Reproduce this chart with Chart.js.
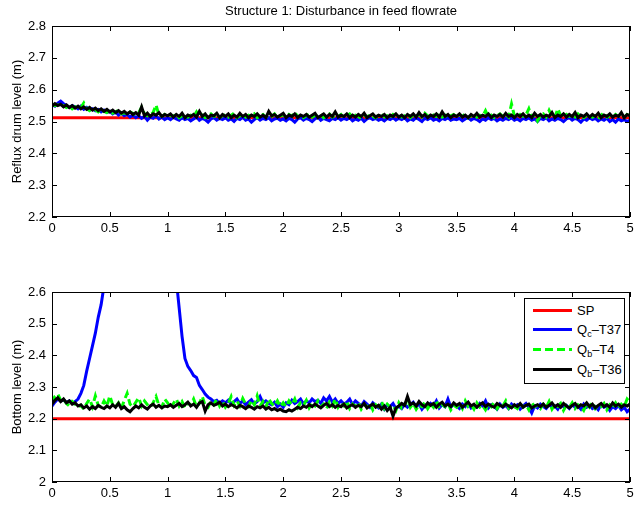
<!DOCTYPE html>
<html>
<head>
<meta charset="utf-8">
<script src="https://cdn.jsdelivr.net/npm/chart.js@4.4.1/dist/chart.umd.min.js"></script>
<style>
  html, body { margin: 0; padding: 0; background: #fff; }
  body { width: 635px; height: 506px; position: relative; overflow: hidden; font-family: 'Liberation Sans', Arial, sans-serif; }
  .panel { position: absolute; left: 0; width: 635px; }
  #top-panel { top: 0; height: 245px; }
  #bottom-panel { top: 245px; height: 261px; }
  .legend { position: absolute; left: 524px; top: 298px; width: 99px; height: 84px; border: 1px solid #000; background: #fff; font-size: 13px; color: #000; }
  .legend-row { position: absolute; left: 8px; height: 20px; display: flex; align-items: center; white-space: nowrap; }
  .legend-line { width: 39px; height: 3px; margin-right: 5px; }
  .legend sub { font-size: 9px; vertical-align: -3px; line-height: 0; }
</style>
</head>
<body>
<div class="panel" id="top-panel"><canvas id="reflux-chart"></canvas></div>
<div class="panel" id="bottom-panel"><canvas id="bottom-chart"></canvas></div>
<div class="legend">
  <div class="legend-row" style="top:1px"><span class="legend-line" style="background:#ff0000"></span><span>SP</span></div>
  <div class="legend-row" style="top:20px"><span class="legend-line" style="background:#0000ff"></span><span>Q<sub>c</sub>&ndash;T37</span></div>
  <div class="legend-row" style="top:40px"><span class="legend-line" style="background:repeating-linear-gradient(90deg,#00ff00 0 8px,transparent 8px 12px)"></span><span>Q<sub>b</sub>&ndash;T4</span></div>
  <div class="legend-row" style="top:60px"><span class="legend-line" style="background:#000"></span><span>Q<sub>b</sub>&ndash;T36</span></div>
</div>
<script>
// sampling grid, hours 0..5
const sampleStep = 0.025;
const time = Array.from({ length: 201 }, (_, i) => +(i * sampleStep).toFixed(3));
const spTime = [0, 5];

const xTicks = [0, 0.5, 1, 1.5, 2, 2.5, 3, 3.5, 4, 4.5, 5];

// reflux drum level (m)
const refluxSP = [2.512, 2.512];
const refluxQcT37 = [
  2.552, 2.548, 2.558, 2.564, 2.556, 2.550, 2.544, 2.550, 2.546, 2.540, 2.548, 2.538, 2.544, 2.536, 2.540, 2.534, 2.538, 2.530, 2.536, 2.528,
  2.532, 2.524, 2.530, 2.520, 2.526, 2.518, 2.522, 2.514, 2.520, 2.512, 2.518, 2.510, 2.516, 2.504, 2.514, 2.510, 2.518, 2.508, 2.514, 2.506,
  2.512, 2.506, 2.514, 2.508, 2.504, 2.512, 2.506, 2.510, 2.502, 2.508, 2.514, 2.504, 2.510, 2.506, 2.498, 2.508, 2.512, 2.504, 2.510, 2.506,
  2.512, 2.504, 2.508, 2.500, 2.510, 2.506, 2.514, 2.504, 2.508, 2.498, 2.506, 2.512, 2.504, 2.510, 2.506, 2.512, 2.502, 2.508, 2.510, 2.504,
  2.508, 2.502, 2.510, 2.506, 2.498, 2.508, 2.512, 2.504, 2.510, 2.506, 2.500, 2.508, 2.514, 2.504, 2.510, 2.506, 2.502, 2.510, 2.506, 2.512,
  2.504, 2.510, 2.506, 2.512, 2.502, 2.508, 2.504, 2.510, 2.500, 2.508, 2.512, 2.506, 2.510, 2.504, 2.508, 2.502, 2.510, 2.506, 2.512, 2.504,
  2.510, 2.506, 2.512, 2.502, 2.508, 2.504, 2.512, 2.506, 2.500, 2.510, 2.506, 2.512, 2.504, 2.508, 2.502, 2.510, 2.506, 2.512, 2.504, 2.508,
  2.506, 2.510, 2.502, 2.508, 2.512, 2.504, 2.510, 2.506, 2.500, 2.508, 2.504, 2.512, 2.506, 2.510, 2.502, 2.508, 2.504, 2.510, 2.506, 2.512,
  2.504, 2.508, 2.502, 2.510, 2.506, 2.512, 2.504, 2.508, 2.500, 2.510, 2.506, 2.512, 2.502, 2.508, 2.504, 2.510, 2.506, 2.500, 2.508, 2.512,
  2.504, 2.510, 2.506, 2.498, 2.508, 2.504, 2.512, 2.506, 2.510, 2.502, 2.508, 2.504, 2.510, 2.500, 2.506, 2.498, 2.508, 2.502, 2.506, 2.500,
  2.504,
];
const refluxQbT4 = [
  2.556, 2.550, 2.552, 2.546, 2.550, 2.544, 2.548, 2.540, 2.546, 2.538, 2.544, 2.558, 2.540, 2.534, 2.542, 2.536, 2.530, 2.538, 2.532, 2.528,
  2.534, 2.526, 2.530, 2.536, 2.524, 2.528, 2.522, 2.530, 2.526, 2.520, 2.528, 2.545, 2.524, 2.518, 2.522, 2.528, 2.552, 2.520, 2.516, 2.522,
  2.514, 2.520, 2.516, 2.524, 2.512, 2.518, 2.522, 2.514, 2.520, 2.516, 2.530, 2.514, 2.520, 2.512, 2.518, 2.524, 2.516, 2.520, 2.512, 2.518,
  2.522, 2.514, 2.520, 2.526, 2.512, 2.518, 2.522, 2.514, 2.520, 2.516, 2.524, 2.512, 2.518, 2.522, 2.514, 2.520, 2.516, 2.524, 2.512, 2.518,
  2.520, 2.514, 2.522, 2.516, 2.530, 2.514, 2.520, 2.512, 2.518, 2.524, 2.514, 2.520, 2.516, 2.522, 2.512, 2.518, 2.524, 2.514, 2.520, 2.516,
  2.522, 2.512, 2.518, 2.524, 2.514, 2.520, 2.516, 2.510, 2.520, 2.514, 2.522, 2.516, 2.512, 2.520, 2.524, 2.514, 2.518, 2.512, 2.522, 2.516,
  2.520, 2.514, 2.518, 2.524, 2.512, 2.520, 2.516, 2.522, 2.514, 2.526, 2.518, 2.512, 2.520, 2.516, 2.524, 2.514, 2.520, 2.510, 2.518, 2.522,
  2.514, 2.520, 2.516, 2.524, 2.512, 2.518, 2.522, 2.514, 2.520, 2.516, 2.534, 2.514, 2.520, 2.512, 2.518, 2.524, 2.516, 2.522, 2.514, 2.555,
  2.518, 2.512, 2.522, 2.516, 2.520, 2.540, 2.514, 2.520, 2.502, 2.518, 2.524, 2.514, 2.535, 2.516, 2.512, 2.540, 2.518, 2.514, 2.522, 2.516,
  2.520, 2.514, 2.524, 2.516, 2.512, 2.520, 2.526, 2.514, 2.518, 2.506, 2.520, 2.528, 2.514, 2.518, 2.512, 2.522, 2.516, 2.520, 2.514, 2.522,
  2.518,
];
const refluxQbT36 = [
  2.548, 2.556, 2.550, 2.554, 2.546, 2.552, 2.544, 2.550, 2.542, 2.548, 2.540, 2.546, 2.538, 2.544, 2.536, 2.542, 2.534, 2.540, 2.532, 2.538,
  2.530, 2.536, 2.528, 2.534, 2.526, 2.532, 2.524, 2.530, 2.522, 2.528, 2.520, 2.546, 2.518, 2.526, 2.516, 2.524, 2.520, 2.528, 2.516, 2.522,
  2.518, 2.524, 2.514, 2.522, 2.516, 2.526, 2.512, 2.520, 2.516, 2.522, 2.514, 2.532, 2.516, 2.524, 2.512, 2.520, 2.518, 2.526, 2.512, 2.522,
  2.516, 2.524, 2.512, 2.520, 2.514, 2.526, 2.516, 2.522, 2.512, 2.520, 2.516, 2.524, 2.514, 2.520, 2.512, 2.532, 2.518, 2.522, 2.514, 2.520,
  2.526, 2.512, 2.520, 2.516, 2.524, 2.512, 2.520, 2.516, 2.522, 2.514, 2.520, 2.526, 2.512, 2.518, 2.524, 2.514, 2.522, 2.516, 2.530, 2.514,
  2.520, 2.516, 2.524, 2.512, 2.520, 2.514, 2.522, 2.516, 2.526, 2.512, 2.518, 2.524, 2.514, 2.520, 2.516, 2.522, 2.512, 2.520, 2.516, 2.524,
  2.514, 2.520, 2.512, 2.522, 2.516, 2.524, 2.514, 2.528, 2.516, 2.522, 2.512, 2.520, 2.516, 2.524, 2.514, 2.530, 2.516, 2.522, 2.512, 2.520,
  2.516, 2.524, 2.514, 2.520, 2.512, 2.522, 2.516, 2.526, 2.514, 2.520, 2.516, 2.524, 2.512, 2.520, 2.516, 2.522, 2.514, 2.526, 2.516, 2.520,
  2.512, 2.522, 2.516, 2.524, 2.514, 2.520, 2.512, 2.526, 2.516, 2.522, 2.514, 2.520, 2.516, 2.528, 2.512, 2.520, 2.516, 2.524, 2.514, 2.522,
  2.516, 2.528, 2.512, 2.520, 2.516, 2.524, 2.514, 2.522, 2.516, 2.526, 2.512, 2.520, 2.516, 2.524, 2.514, 2.520, 2.516, 2.528, 2.512, 2.522,
  2.518,
];

// bottom level (m)
const bottomSP = [2.2, 2.2];
const bottomQcT37 = [
  2.240, 2.252, 2.262, 2.256, 2.260, 2.250, 2.256, 2.248, 2.254, 2.262, 2.280, 2.305, 2.350, 2.390, 2.430, 2.470, 2.520, 2.560, 2.620, 2.690,
  2.760, 2.840, 2.920, 3.000, 3.080, 3.150, 3.210, 3.260, 3.300, 3.330, 3.350, 3.360, 3.350, 3.330, 3.300, 3.260, 3.210, 3.150, 3.080, 3.000,
  2.900, 2.800, 2.700, 2.640, 2.550, 2.460, 2.390, 2.365, 2.352, 2.336, 2.330, 2.305, 2.292, 2.278, 2.268, 2.262, 2.254, 2.258, 2.248, 2.256,
  2.250, 2.258, 2.246, 2.254, 2.262, 2.248, 2.256, 2.244, 2.252, 2.260, 2.246, 2.254, 2.270, 2.250, 2.256, 2.248, 2.244, 2.252, 2.238, 2.246,
  2.236, 2.250, 2.244, 2.258, 2.248, 2.254, 2.262, 2.246, 2.256, 2.250, 2.262, 2.254, 2.258, 2.248, 2.266, 2.256, 2.270, 2.252, 2.262, 2.248,
  2.256, 2.246, 2.252, 2.262, 2.244, 2.256, 2.248, 2.240, 2.254, 2.246, 2.236, 2.250, 2.242, 2.234, 2.246, 2.230, 2.244, 2.238, 2.248, 2.232,
  2.240, 2.232, 2.246, 2.236, 2.244, 2.252, 2.238, 2.246, 2.230, 2.242, 2.236, 2.248, 2.240, 2.256, 2.234, 2.244, 2.238, 2.262, 2.236, 2.246,
  2.240, 2.232, 2.246, 2.238, 2.250, 2.234, 2.242, 2.236, 2.248, 2.240, 2.256, 2.234, 2.244, 2.238, 2.230, 2.246, 2.236, 2.242, 2.232, 2.246,
  2.238, 2.244, 2.230, 2.240, 2.248, 2.236, 2.218, 2.240, 2.234, 2.246, 2.238, 2.232, 2.244, 2.236, 2.240, 2.230, 2.246, 2.238, 2.242, 2.232,
  2.244, 2.236, 2.240, 2.230, 2.246, 2.236, 2.242, 2.232, 2.238, 2.228, 2.244, 2.236, 2.240, 2.226, 2.238, 2.232, 2.242, 2.228, 2.236, 2.222,
  2.230,
];
const bottomQbT4 = [
  2.252, 2.270, 2.278, 2.258, 2.262, 2.248, 2.240, 2.254, 2.246, 2.236, 2.242, 2.230, 2.248, 2.262, 2.238, 2.272, 2.242, 2.236, 2.256, 2.240,
  2.272, 2.244, 2.238, 2.250, 2.232, 2.258, 2.280, 2.246, 2.238, 2.252, 2.266, 2.240, 2.256, 2.244, 2.236, 2.250, 2.270, 2.242, 2.236, 2.262,
  2.250, 2.234, 2.248, 2.262, 2.240, 2.254, 2.234, 2.250, 2.244, 2.262, 2.238, 2.248, 2.270, 2.242, 2.236, 2.256, 2.244, 2.262, 2.240, 2.254,
  2.236, 2.248, 2.270, 2.242, 2.256, 2.240, 2.264, 2.246, 2.238, 2.258, 2.244, 2.272, 2.240, 2.254, 2.236, 2.262, 2.248, 2.240, 2.256, 2.238,
  2.250, 2.238, 2.256, 2.244, 2.262, 2.236, 2.250, 2.242, 2.258, 2.234, 2.248, 2.240, 2.256, 2.238, 2.246, 2.232, 2.252, 2.240, 2.262, 2.236,
  2.248, 2.240, 2.256, 2.232, 2.246, 2.238, 2.252, 2.230, 2.244, 2.236, 2.250, 2.228, 2.244, 2.238, 2.254, 2.232, 2.246, 2.236, 2.242, 2.226,
  2.250, 2.234, 2.242, 2.262, 2.236, 2.248, 2.230, 2.244, 2.238, 2.252, 2.232, 2.246, 2.236, 2.258, 2.232, 2.244, 2.238, 2.250, 2.228, 2.242,
  2.236, 2.248, 2.232, 2.256, 2.238, 2.244, 2.230, 2.250, 2.236, 2.242, 2.228, 2.246, 2.238, 2.252, 2.232, 2.244, 2.240, 2.256, 2.234, 2.246,
  2.238, 2.232, 2.248, 2.236, 2.244, 2.228, 2.250, 2.238, 2.242, 2.232, 2.246, 2.236, 2.254, 2.230, 2.244, 2.238, 2.248, 2.226, 2.242, 2.236,
  2.250, 2.232, 2.244, 2.238, 2.226, 2.246, 2.236, 2.252, 2.232, 2.242, 2.238, 2.248, 2.228, 2.244, 2.236, 2.250, 2.234, 2.246, 2.238, 2.262,
  2.252,
];
const bottomQbT36 = [
  2.246, 2.258, 2.266, 2.254, 2.262, 2.250, 2.256, 2.246, 2.250, 2.240, 2.244, 2.234, 2.240, 2.230, 2.238, 2.232, 2.242, 2.236, 2.232, 2.240,
  2.234, 2.244, 2.236, 2.248, 2.232, 2.238, 2.228, 2.222, 2.232, 2.240, 2.234, 2.244, 2.236, 2.230, 2.240, 2.246, 2.236, 2.242, 2.234, 2.240,
  2.238, 2.244, 2.236, 2.242, 2.248, 2.238, 2.244, 2.252, 2.240, 2.246, 2.236, 2.250, 2.254, 2.224, 2.244, 2.250, 2.242, 2.246, 2.252, 2.240,
  2.246, 2.238, 2.244, 2.240, 2.234, 2.242, 2.238, 2.232, 2.240, 2.236, 2.230, 2.238, 2.234, 2.240, 2.230, 2.236, 2.228, 2.232, 2.226, 2.230,
  2.224, 2.222, 2.228, 2.224, 2.230, 2.236, 2.232, 2.240, 2.236, 2.244, 2.238, 2.246, 2.240, 2.234, 2.242, 2.248, 2.238, 2.244, 2.236, 2.242,
  2.238, 2.246, 2.234, 2.240, 2.244, 2.236, 2.242, 2.238, 2.248, 2.234, 2.240, 2.246, 2.236, 2.242, 2.230, 2.240, 2.226, 2.236, 2.208, 2.234,
  2.240, 2.248, 2.242, 2.270, 2.244, 2.250, 2.240, 2.254, 2.244, 2.238, 2.250, 2.242, 2.248, 2.236, 2.246, 2.252, 2.240, 2.246, 2.238, 2.250,
  2.242, 2.248, 2.236, 2.244, 2.252, 2.240, 2.246, 2.236, 2.244, 2.250, 2.238, 2.246, 2.240, 2.236, 2.248, 2.242, 2.238, 2.246, 2.240, 2.234,
  2.244, 2.238, 2.248, 2.236, 2.242, 2.246, 2.234, 2.240, 2.244, 2.238, 2.246, 2.236, 2.242, 2.250, 2.238, 2.244, 2.236, 2.248, 2.240, 2.234,
  2.242, 2.248, 2.236, 2.244, 2.240, 2.250, 2.238, 2.246, 2.234, 2.242, 2.248, 2.238, 2.244, 2.236, 2.250, 2.240, 2.246, 2.236, 2.244, 2.240,
  2.246,
];

const FONT = "'Liberation Sans', Arial, sans-serif";
Chart.defaults.font.family = FONT;
Chart.defaults.color = '#000';

// matlab-like box with inward ticks on all four sides, plus title over the plot area
const boxTicks = {
  id: 'boxTicks',
  afterDatasetsDraw(chart, args, opts) {
    const { ctx, chartArea: a, scales: { x, y } } = chart;
    ctx.save();
    ctx.strokeStyle = '#000';
    ctx.lineWidth = 1;
    ctx.beginPath();
    x.ticks.forEach((t) => {
      const px = Math.round(x.getPixelForValue(t.value)) + 0.5;
      ctx.moveTo(px, a.bottom); ctx.lineTo(px, a.bottom - 5);
      ctx.moveTo(px, a.top); ctx.lineTo(px, a.top + 5);
    });
    y.ticks.forEach((t) => {
      const py = Math.round(y.getPixelForValue(t.value)) + 0.5;
      ctx.moveTo(a.left, py); ctx.lineTo(a.left + 5, py);
      ctx.moveTo(a.right, py); ctx.lineTo(a.right - 5, py);
    });
    ctx.stroke();
    ctx.strokeRect(Math.round(a.left) + 0.5, Math.round(a.top) + 0.5, Math.round(a.right - a.left) - 1, Math.round(a.bottom - a.top) - 1);
    if (opts.title) {
      ctx.fillStyle = '#000';
      ctx.font = '13px ' + FONT;
      ctx.textAlign = 'center';
      ctx.textBaseline = 'middle';
      ctx.fillText(opts.title, (a.left + a.right) / 2, 11);
    }
    ctx.restore();
  },
};

function series(values, color, order, dash) {
  return {
    data: values.map((v, i) => ({ x: time[i], y: v })),
    borderColor: color,
    borderWidth: 3,
    borderDash: dash || [],
    pointRadius: 0,
    tension: 0,
    order,
  };
}

function setpoint(values) {
  return {
    data: values.map((v, i) => ({ x: spTime[i], y: v })),
    borderColor: '#ff0000',
    borderWidth: 3,
    pointRadius: 0,
    order: 4,
  };
}

const fmt = (v) => String(+Number(v).toFixed(2));

function makeChart(canvasId, cfg) {
  return new Chart(document.getElementById(canvasId), {
    type: 'line',
    data: {
      datasets: [
        setpoint(cfg.sp),
        series(cfg.qc, '#0000ff', 3),
        series(cfg.qb4, '#00ff00', 2, [7, 4]),
        series(cfg.qb36, '#000000', 1),
      ],
    },
    plugins: [boxTicks],
    options: {
      responsive: true,
      maintainAspectRatio: false,
      animation: false,
      layout: { padding: { top: cfg.padTop, right: 5, left: 0, bottom: 0 } },
      plugins: {
        legend: { display: false },
        tooltip: { enabled: false },
        boxTicks: { title: cfg.title },
      },
      scales: {
        x: {
          type: 'linear',
          min: 0,
          max: 5,
          afterBuildTicks: (scale) => { scale.ticks = xTicks.map((v) => ({ value: v })); },
          grid: { display: false, drawTicks: false },
          border: { display: false },
          ticks: { font: { size: 13 }, padding: 4, maxRotation: 0, autoSkip: false, callback: fmt },
          afterFit: (scale) => {
            scale.height = cfg.xHeight;
            scale.paddingLeft = 0;
            scale.paddingRight = 0;
          },
        },
        y: {
          type: 'linear',
          min: cfg.yMin,
          max: cfg.yMax,
          afterBuildTicks: (scale) => { scale.ticks = cfg.yTicks.map((v) => ({ value: v })); },
          grid: { display: false, drawTicks: false },
          border: { display: false },
          ticks: { font: { size: 13 }, padding: 6, callback: fmt },
          title: { display: true, text: cfg.yTitle, font: { size: 13 }, padding: { top: 10, bottom: 0 } },
          afterFit: (scale) => {
            scale.width = 52;
            scale.paddingTop = 0;
            scale.paddingBottom = 0;
          },
        },
      },
    },
  });
}

makeChart('reflux-chart', {
  title: 'Structure 1: Disturbance in feed flowrate',
  sp: refluxSP, qc: refluxQcT37, qb4: refluxQbT4, qb36: refluxQbT36,
  yMin: 2.2, yMax: 2.8,
  yTicks: [2.2, 2.3, 2.4, 2.5, 2.6, 2.7, 2.8],
  yTitle: 'Reflux drum level (m)',
  padTop: 26, xHeight: 28,
});

makeChart('bottom-chart', {
  title: '',
  sp: bottomSP, qc: bottomQcT37, qb4: bottomQbT4, qb36: bottomQbT36,
  yMin: 2, yMax: 2.6,
  yTicks: [2, 2.1, 2.2, 2.3, 2.4, 2.5, 2.6],
  yTitle: 'Bottom level (m)',
  padTop: 47, xHeight: 24,
});
</script>
</body>
</html>
